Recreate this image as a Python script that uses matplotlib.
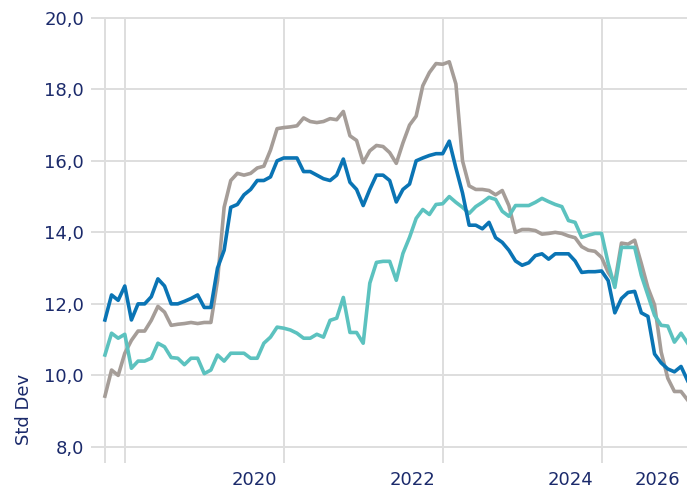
import numpy as np
import matplotlib.pyplot as plt

# monthly series
blue = [11.55, 12.25, 12.1, 12.5, 11.55, 12.0, 12.0, 12.2, 12.7, 12.5,
        12.0, 12.0, 12.07, 12.15, 12.25, 11.9, 11.9, 13.0, 13.5, 14.7,
        14.78, 15.05, 15.2, 15.45, 15.45, 15.55, 16.0, 16.08, 16.08, 16.08,
        15.7, 15.7, 15.6, 15.5, 15.45, 15.6, 16.05, 15.4, 15.2, 14.75,
        15.2, 15.6, 15.6, 15.45, 14.85, 15.2, 15.35, 16.0, 16.08, 16.15,
        16.2, 16.2, 16.55, 15.8, 15.1, 14.2, 14.2, 14.1, 14.28, 13.85,
        13.72, 13.5, 13.2, 13.08, 13.15, 13.35, 13.4, 13.25, 13.4, 13.4,
        13.4, 13.2, 12.88, 12.9, 12.9, 12.92, 12.65, 11.75, 12.15, 12.32,
        12.35, 11.75, 11.65, 10.6, 10.35, 10.18, 10.1, 10.25, 9.85]
grey = [9.42, 10.15, 10.0, 10.62, 10.98, 11.24, 11.24, 11.54, 11.93, 11.77,
        11.4, 11.43, 11.45, 11.48, 11.45, 11.48, 11.48, 12.65, 14.7, 15.45,
        15.65, 15.6, 15.65, 15.8, 15.85, 16.3, 16.9, 16.93, 16.95, 16.98,
        17.2, 17.1, 17.07, 17.1, 17.18, 17.15, 17.38, 16.7, 16.57, 15.95,
        16.28, 16.43, 16.4, 16.23, 15.93, 16.5, 17.0, 17.25, 18.1, 18.47,
        18.72, 18.7, 18.77, 18.15, 16.0, 15.3, 15.2, 15.2, 15.17, 15.05,
        15.17, 14.75, 14.0, 14.08, 14.08, 14.05, 13.95, 13.97, 14.0, 13.97,
        13.9, 13.85, 13.6, 13.5, 13.47, 13.3, 12.88, 12.6, 13.7, 13.67,
        13.78, 13.13, 12.45, 11.97, 10.65, 9.92, 9.55, 9.55, 9.31]
teal = [10.57, 11.18, 11.04, 11.15, 10.2, 10.4, 10.4, 10.48, 10.9, 10.8,
        10.5, 10.48, 10.3, 10.48, 10.48, 10.05, 10.15, 10.57, 10.4, 10.62,
        10.62, 10.62, 10.48, 10.48, 10.9, 11.07, 11.35, 11.32, 11.27, 11.18,
        11.04, 11.04, 11.15, 11.07, 11.54, 11.6, 12.18, 11.2, 11.2, 10.9,
        12.58, 13.16, 13.19, 13.19, 12.66, 13.41, 13.86, 14.39, 14.64, 14.5,
        14.78, 14.8, 15.0, 14.84, 14.7, 14.53, 14.72, 14.84, 14.98, 14.92,
        14.59, 14.45, 14.75, 14.75, 14.75, 14.84, 14.95, 14.86, 14.78, 14.72,
        14.33, 14.28, 13.86, 13.92, 13.97, 13.97, 13.13, 12.46, 13.58, 13.58,
        13.58, 12.8, 12.24, 11.68, 11.4, 11.38, 10.93, 11.18, 10.9]
year_labels = ['2020', '2022', '2024', '2026']
y_ticks = [8, 10, 12, 14, 16, 18, 20]

navy = '#1b2a6b'
months = np.arange(len(blue))

fig = plt.figure(figsize=(6.87, 4.88), dpi=100)
ax = fig.add_axes([0.1325, 0.0512, 0.8675, 0.9138])

ax.plot(months, grey, color='#a59d98', lw=2.6, zorder=3)
ax.plot(months, teal, color='#5cc2bf', lw=2.6, zorder=4)
ax.plot(months, blue, color='#0a74b4', lw=2.6, zorder=5)

ax.set_xlim(-2.1, 87.9)
ax.set_ylim(7.55, 20.02)

ax.set_yticks(y_ticks)
ax.set_yticklabels([f'{v:.1f}'.replace('.', ',') for v in y_ticks])
ax.set_xticks([22.64, 46.49, 70.34, 83.47])
ax.set_xticklabels(year_labels)
ax.set_xticks([0, 3, 27, 51, 75], minor=True)

ax.grid(axis='y', which='major', color='#dedede', lw=1.4)
ax.grid(axis='x', which='minor', color='#dedede', lw=1.4)
ax.set_axisbelow(True)
for s in ax.spines.values():
    s.set_visible(False)
ax.tick_params(axis='both', which='both', length=0, labelsize=13, labelcolor=navy)
ax.tick_params(axis='y', pad=5)
ax.tick_params(axis='x', pad=6)

fig.text(0.035, 1 - 409 / 488, 'Std Dev', rotation=90, va='center', ha='center',
         fontsize=13, color=navy)

plt.savefig('out.png')
